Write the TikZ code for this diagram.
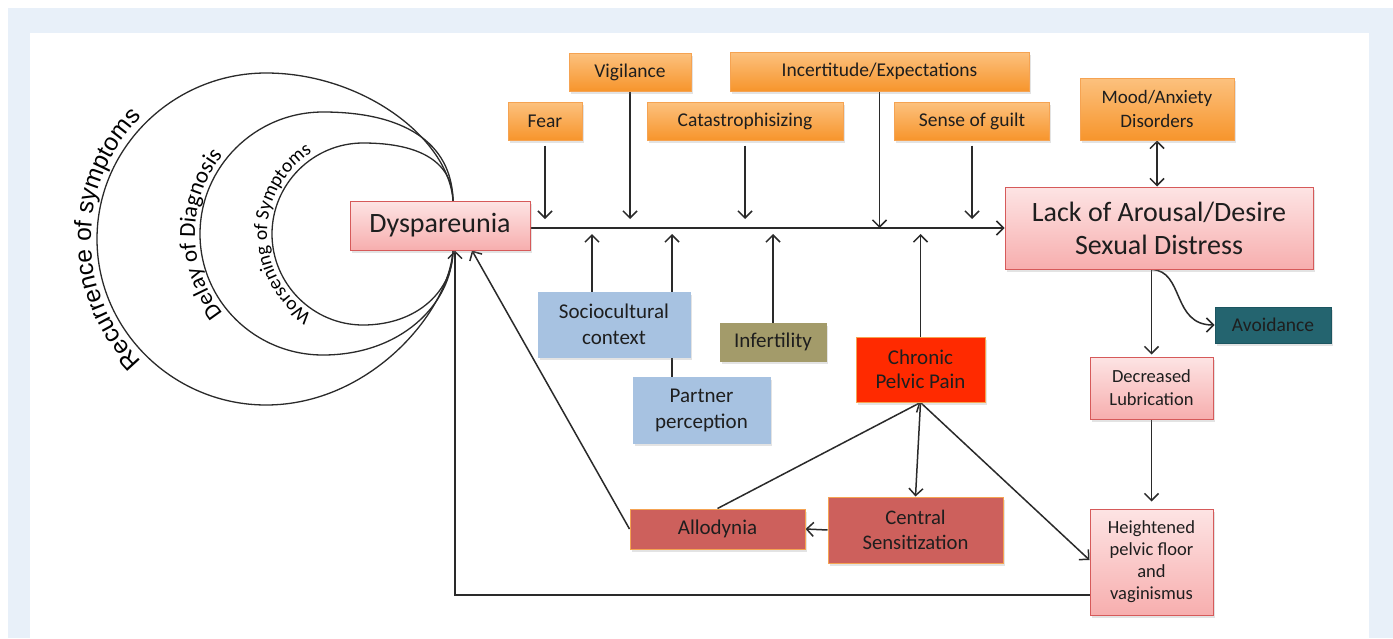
\documentclass[tikz,border=0pt]{standalone}
\usepackage{fontspec}
\setmainfont{Carlito}
\newfontfamily\arialf{Liberation Sans}
\usetikzlibrary{arrows.meta,shadows,decorations.text}
\pgfdeclarelayer{bg}\pgfdeclarelayer{edges}\pgfsetlayers{bg,edges,main}
\definecolor{pagebg}{HTML}{E8F0F9}
\definecolor{ln}{HTML}{2A2A2A}
\definecolor{txt}{HTML}{1E1E1E}
\definecolor{orT}{HTML}{FCC17E}
\definecolor{orB}{HTML}{F7952C}
\definecolor{orD}{HTML}{F5A352}
\definecolor{pkT}{HTML}{FDE4E4}
\definecolor{pkB}{HTML}{F7AEAE}
\definecolor{pkD}{HTML}{D65A5A}
\definecolor{blu}{HTML}{A7C2E1}
\definecolor{oli}{HTML}{A39B6A}
\definecolor{chr}{HTML}{FF2A00}
\definecolor{teal}{HTML}{24646F}
\definecolor{tealD}{HTML}{1C5560}
\definecolor{brk}{HTML}{CD605C}
\newcommand{\fsz}[2]{\fontsize{#1}{#2}\selectfont}
\begin{document}
\begin{tikzpicture}[x=1pt,y=-1pt,
  box/.style={rectangle, inner sep=2pt, align=center, text=txt, line width=1pt,
     drop shadow={opacity=0.22, shadow xshift=1.5pt, shadow yshift=-2.5pt}},
  obox/.style={box, top color=orT, bottom color=orB, draw=orD, font=\fsz{19.5}{24}},
  pbox/.style={box, top color=pkT, bottom color=pkB, draw=pkD},
  bbox/.style={box, fill=blu, draw=blu, font=\fsz{21}{26}},
  arr/.style={draw=ln, line width=1.5pt, -{Straight Barb[length=7pt,width=14pt]}},
  darr/.style={draw=ln, line width=1.5pt, {Straight Barb[length=7pt,width=14pt]}-{Straight Barb[length=7pt,width=14pt]}},
  ring/.style={draw=ln, line width=1.3pt}
]
\useasboundingbox (0,0) rectangle (1393,638);
\begin{pgfonlayer}{bg}
\fill[white] (0,0) rectangle (1393,638);
\fill[pagebg] (8,8) rectangle (1393,638);
\fill[white] (30,33) rectangle (1369,638);
\end{pgfonlayer}

% nodes
\node[pbox, minimum width=180, minimum height=49, font=\fsz{28}{33}] (dysp) at (440,225.5) {Dyspareunia};
\node[obox, minimum width=74, minimum height=38] (fear) at (545,121) {Fear};
\node[obox, minimum width=122, minimum height=38] (vig) at (630,72) {Vigilance};
\node[obox, minimum width=196, minimum height=38] (cat) at (745,121) {Catastrophisizing};
\node[obox, minimum width=299, minimum height=39] (inc) at (879.5,71.5) {Incertitude/Expectations};
\node[obox, minimum width=155, minimum height=38] (guilt) at (972,121) {Sense of guilt};
\node[obox, minimum width=154, minimum height=62, font=\fsz{19}{24}] (mood) at (1157,109) {Mood/Anxiety\\Disorders};
\node[pbox, minimum width=308, minimum height=82, font=\fsz{28}{33}] (lack) at (1159,228) {Lack of Arousal/Desire\\Sexual Distress};
\node[bbox, minimum width=152, minimum height=65] (socio) at (614,324.5) {Sociocultural\\context};
\node[bbox, minimum width=137, minimum height=66] (partner) at (701.5,410) {Partner\\perception};
\node[box, fill=oli, draw=oli, minimum width=106, minimum height=38, font=\fsz{21}{26}] (infert) at (773,342) {Infertility};
\node[box, fill=chr, draw=orD, minimum width=129, minimum height=65, font=\fsz{21}{24}] (chronic) at (920.5,369.5) {Chronic\\Pelvic Pain};
\node[box, fill=teal, draw=tealD, minimum width=116, minimum height=36, font=\fsz{19.5}{24}] (avoid) at (1273,325) {Avoidance};
\node[pbox, minimum width=123, minimum height=62, font=\fsz{18.5}{23}] (decr) at (1151.5,388) {Decreased\\Lubrication};
\node[box, fill=brk, draw=orD, minimum width=175, minimum height=66, font=\fsz{20.7}{25}] (central) at (915.5,530) {Central\\Sensitization};
\node[box, fill=brk, draw=orD, minimum width=175, minimum height=40, font=\fsz{21}{26}] (allod) at (717.5,529) {Allodynia};
\node[pbox, minimum width=123, minimum height=106, font=\fsz{18.5}{22}] (height) at (1151.5,562) {Heightened\\pelvic floor\\and\\vaginismus};

\coordinate (mlA) at (0,219);
\coordinate (mlB) at (0,234);
\coordinate (soc1) at ([xshift=-22pt]socio.north);
\coordinate (par1) at ([xshift=-29.5pt]partner.north);
\coordinate (fear1) at ([yshift=-5pt]fear.south);
\coordinate (cat1) at ([yshift=-5pt]cat.south);
\coordinate (guilt1) at ([yshift=-5pt]guilt.south);
\coordinate (lk) at (decr.north |- lack.south);

\begin{pgfonlayer}{edges}
% rings
\draw[ring] (453,201) .. controls (449,138) and (362,73) .. (266,73)
  .. controls (174,73) and (97,147) .. (97,239)
  .. controls (97,331) and (174,405) .. (266,405)
  .. controls (370,405) and (449,312) .. (453,250);
\draw[ring] (453,201) .. controls (452,142) and (403,112) .. (323,112)
  .. controls (255,112) and (200,167) .. (200,234)
  .. controls (200,301) and (255,355) .. (323,355)
  .. controls (400,355) and (452,305) .. (453,250);
\draw[ring] (453,201) .. controls (453,162) and (420,143) .. (363,143)
  .. controls (313,143) and (272,184) .. (272,234)
  .. controls (272,284) and (313,325) .. (363,325)
  .. controls (418,325) and (453,290) .. (453,250);
\path[decorate, decoration={text along path, text align=center,
   text={|\arialf\fsz{24.5}{24.5}|Recurrence of symptoms}}]
   (263,239) ++(134:172) arc[start angle=134, end angle=226, radius=172];
\path[decorate, decoration={text along path, text align=center,
   text={|\fsz{23}{23}|Delay of Diagnosis}}]
   (321,234) ++(141:126) arc[start angle=141, end angle=219, radius=126];
\path[decorate, decoration={text along path, text align=center,
   text={|\fsz{19.5}{19.5}|Worsening of Symptoms}}]
   (363,234) ++(123:96) arc[start angle=123, end angle=237, radius=96];

% main line
\draw[arr] (dysp.east |- lack.west) -- (lack.west);
\draw[arr] (fear1) -- (fear1 |- mlA);
\draw[arr] (vig.south) -- (vig.south |- mlA);
\draw[arr] (cat1) -- (cat1 |- mlA);
\draw[arr] (inc.south) -- (inc.south |- lack.west);
\draw[arr] (guilt1) -- (guilt1 |- mlA);
\draw[arr] (soc1) -- (soc1 |- mlB);
\draw[arr] (par1) -- (par1 |- mlB);
\draw[arr] (infert.north) -- (infert.north |- mlB);
\draw[arr] (chronic.north) -- (chronic.north |- mlB);
\draw[darr] (mood.south) -- (mood.south |- lack.north);
% right side
\draw[arr] (lk) -- ([yshift=2pt]decr.north);
\draw[arr] (lk) .. controls +(33,1) and +(-43,0) .. (avoid.west);
\draw[arr] (decr.south) -- ([yshift=7pt]height.north);
% pain cluster
\draw[arr] (chronic.south) -- (central.north);
\draw[arr] (chronic.south) -- ([yshift=2pt]height.west);
\draw[arr] (allod.north) -- (chronic.south);
\draw[arr] (central.west) -- (allod.east);
\draw[arr] (allod.west) -- ([xshift=32pt]dysp.south);
\draw[arr] ([yshift=-33pt]height.west) -| ([xshift=15pt]dysp.south);
\end{pgfonlayer}
\end{tikzpicture}
\end{document}
